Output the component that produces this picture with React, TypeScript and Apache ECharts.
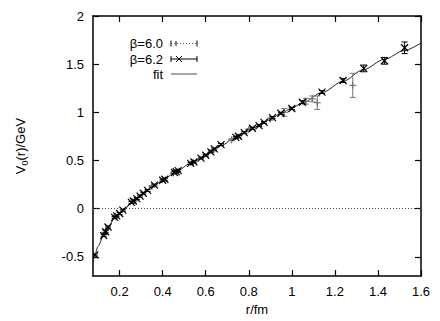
import React, { useEffect, useRef } from "react";
import * as echarts from "echarts";

// ---- data ----
const xTicks = [0.2, 0.4, 0.6, 0.8, 1.0, 1.2, 1.4, 1.6];
const yTicks = [-0.5, 0, 0.5, 1, 1.5, 2];

// beta = 6.2 : [r, V, err]
const beta62: number[][] = [
  [0.085, -0.48, 0.01], [0.126, -0.28, 0.01], [0.135, -0.24, 0.01], [0.146, -0.19, 0.01],
  [0.177, -0.09, 0.01], [0.186, -0.075, 0.01], [0.2, -0.05, 0.01], [0.215, -0.015, 0.01],
  [0.255, 0.065, 0.01], [0.264, 0.08, 0.01], [0.28, 0.105, 0.01], [0.295, 0.13, 0.01],
  [0.31, 0.16, 0.01], [0.33, 0.19, 0.01], [0.362, 0.245, 0.01], [0.4, 0.295, 0.01],
  [0.41, 0.305, 0.01], [0.455, 0.375, 0.01], [0.463, 0.385, 0.01], [0.472, 0.395, 0.01],
  [0.53, 0.47, 0.01], [0.545, 0.485, 0.01], [0.578, 0.525, 0.01], [0.6, 0.555, 0.01],
  [0.624, 0.59, 0.01], [0.64, 0.62, 0.01], [0.671, 0.665, 0.01], [0.74, 0.74, 0.01],
  [0.752, 0.752, 0.01], [0.779, 0.79, 0.01], [0.817, 0.835, 0.01], [0.848, 0.862, 0.01],
  [0.871, 0.895, 0.01], [0.91, 0.945, 0.01], [0.949, 0.99, 0.01], [1.0, 1.04, 0.012],
  [1.049, 1.105, 0.015], [1.14, 1.21, 0.015], [1.238, 1.33, 0.02], [1.334, 1.456, 0.035],
  [1.43, 1.535, 0.035], [1.524, 1.67, 0.06],
];

// beta = 6.0 : [r, V, err]
const beta60: number[][] = [
  [0.13, -0.26, 0.01], [0.18, -0.08, 0.01], [0.27, 0.09, 0.01], [0.35, 0.23, 0.01],
  [0.45, 0.37, 0.01], [0.54, 0.48, 0.01], [0.63, 0.6, 0.01], [0.72, 0.715, 0.01],
  [0.8, 0.82, 0.01], [0.9, 0.93, 0.012], [0.965, 1.0, 0.04], [1.065, 1.115, 0.03],
  [1.095, 1.14, 0.03], [1.118, 1.1, 0.07], [1.283, 1.28, 0.125],
];

const fitCurve: number[][] = [
  [0.0764, -0.56], [0.085, -0.48], [0.1, -0.39], [0.126, -0.275], [0.146, -0.195],
  [0.177, -0.1], [0.2, -0.05], [0.215, -0.02], [0.262, 0.075], [0.3, 0.14],
  [0.36, 0.24], [0.4, 0.295], [0.46, 0.38], [0.53, 0.47], [0.58, 0.525],
  [0.62, 0.585], [0.67, 0.655], [0.74, 0.74], [0.78, 0.79], [0.82, 0.838],
  [0.87, 0.895], [0.91, 0.945], [0.95, 0.99], [1.0, 1.045], [1.05, 1.1],
  [1.14, 1.205], [1.24, 1.325], [1.33, 1.44], [1.43, 1.55], [1.52, 1.64], [1.6, 1.72],
];

const FONT = "'Liberation Sans', Arial, sans-serif";

function errRender(kind: "x" | "plus", color: string) {
  return (params: any, api: any) => {
    const x = api.value(0);
    const y = api.value(1);
    const e = api.value(2);
    const p = api.coord([x, y]);
    const hi = api.coord([x, y + e]);
    const lo = api.coord([x, y - e]);
    const cw = 3;
    const s = 3.5;
    const st = { stroke: color, lineWidth: 1 };
    const children: any[] = [
      { type: "line", shape: { x1: hi[0], y1: hi[1], x2: lo[0], y2: lo[1] }, style: st },
      { type: "line", shape: { x1: hi[0] - cw, y1: hi[1], x2: hi[0] + cw, y2: hi[1] }, style: st },
      { type: "line", shape: { x1: lo[0] - cw, y1: lo[1], x2: lo[0] + cw, y2: lo[1] }, style: st },
    ];
    if (kind === "x") {
      children.push(
        { type: "line", shape: { x1: p[0] - s, y1: p[1] - s, x2: p[0] + s, y2: p[1] + s }, style: { stroke: "#000", lineWidth: 1.2 } },
        { type: "line", shape: { x1: p[0] - s, y1: p[1] + s, x2: p[0] + s, y2: p[1] - s }, style: { stroke: "#000", lineWidth: 1.2 } },
      );
    } else {
      children.push(
        { type: "line", shape: { x1: p[0] - s, y1: p[1], x2: p[0] + s, y2: p[1] }, style: { stroke: color, lineWidth: 1.2 } },
        { type: "line", shape: { x1: p[0], y1: p[1] - s, x2: p[0], y2: p[1] + s }, style: { stroke: color, lineWidth: 1.2 } },
      );
    }
    return { type: "group", children };
  };
}

export default function App() {
  const ref = useRef<HTMLDivElement>(null);
  useEffect(() => {
    if (!ref.current) return;
    const chart = echarts.init(ref.current, undefined, { renderer: "svg" });
    const axisLine = { show: true, onZero: false, lineStyle: { color: "#000", width: 1.5 } };
    const tick = (vals: number[]) => ({
      show: true, inside: true, length: 6, customValues: vals,
      lineStyle: { color: "#000", width: 1.2 },
    });
    const lx = 171, rx = 197;
    const legendLine = (y: number, color: string, type: any) => [
      { type: "line", shape: { x1: lx, y1: y, x2: rx, y2: y }, style: { stroke: color, lineWidth: 1, lineDash: type } },
      { type: "line", shape: { x1: lx, y1: y - 3, x2: lx, y2: y + 3 }, style: { stroke: "#000", lineWidth: 1 } },
      { type: "line", shape: { x1: rx, y1: y - 3, x2: rx, y2: y + 3 }, style: { stroke: "#000", lineWidth: 1 } },
    ];
    const txt = (y: number, t: string) => ({
      type: "text", x: 163, y,
      style: { text: t, fill: "#000", font: `13px ${FONT}`, textAlign: "right", textVerticalAlign: "middle" },
    });
    chart.setOption({
      animation: false,
      backgroundColor: "#fff",
      grid: { left: 93, right: 19, top: 16, bottom: 42 },
      xAxis: [
        {
          type: "value", min: 0.0764, max: 1.6, position: "bottom",
          name: "r/fm", nameLocation: "middle", nameGap: 24,
          nameTextStyle: { fontFamily: FONT, fontSize: 13, color: "#000" },
          axisLine, axisTick: tick(xTicks), splitLine: { show: false },
          axisLabel: { customValues: xTicks, fontFamily: FONT, fontSize: 13, color: "#000", margin: 9,
            formatter: (v: number) => String(Number(v.toFixed(2))) },
        },
        {
          type: "value", min: 0.0764, max: 1.6, position: "top",
          axisLine, axisTick: tick(xTicks), splitLine: { show: false }, axisLabel: { show: false },
        },
      ],
      yAxis: [
        {
          type: "value", min: -0.7, max: 2, position: "left",
          name: "{v|V}{s|0}{v|(r)/GeV}", nameLocation: "middle", nameGap: 64, nameRotate: 90,
          nameTextStyle: {
            rich: {
              v: { fontFamily: FONT, fontSize: 13, color: "#000", lineHeight: 18 },
              s: { fontFamily: FONT, fontSize: 9, color: "#000", lineHeight: 18, verticalAlign: "bottom" },
            },
          },
          axisLine, axisTick: tick(yTicks), splitLine: { show: false },
          axisLabel: { customValues: yTicks, fontFamily: FONT, fontSize: 13, color: "#000", margin: 9,
            formatter: (v: number) => String(Number(v.toFixed(2))) },
        },
        {
          type: "value", min: -0.7, max: 2, position: "right",
          axisLine, axisTick: tick(yTicks), splitLine: { show: false }, axisLabel: { show: false },
        },
      ],
      series: [
        {
          type: "line", data: fitCurve, showSymbol: false, smooth: 0.3, smoothMonotone: "x",
          lineStyle: { color: "#222", width: 1 }, z: 2,
          markLine: {
            silent: true, symbol: "none", label: { show: false },
            lineStyle: { color: "#444", width: 1, type: [1, 2] },
            data: [{ yAxis: 0 }],
          },
        },
        {
          type: "custom", data: beta60, encode: { x: 0, y: 1 }, clip: true,
          renderItem: errRender("plus", "#777"), z: 3,
        },
        {
          type: "custom", data: beta62, encode: { x: 0, y: 1 }, clip: true,
          renderItem: errRender("x", "#000"), z: 4,
        },
      ],
      graphic: [
        txt(43.5, "β=6.0"),
        ...legendLine(43.5, "#666", [1, 2]),
        { type: "line", shape: { x1: 176, y1: 41, x2: 176, y2: 46 }, style: { stroke: "#000", lineWidth: 1 } },
        txt(59, "β=6.2"),
        ...legendLine(59, "#000", null),
        { type: "line", shape: { x1: 176, y1: 56, x2: 182, y2: 62 }, style: { stroke: "#000", lineWidth: 1 } },
        { type: "line", shape: { x1: 176, y1: 62, x2: 182, y2: 56 }, style: { stroke: "#000", lineWidth: 1 } },
        txt(74, "fit"),
        { type: "line", shape: { x1: lx, y1: 74, x2: rx, y2: 74 }, style: { stroke: "#888", lineWidth: 1.5 } },
      ],
    });
    return () => chart.dispose();
  }, []);
  return <div ref={ref} style={{ position: "absolute", left: 0, top: 0, width: 440, height: 321 }} />;
}
